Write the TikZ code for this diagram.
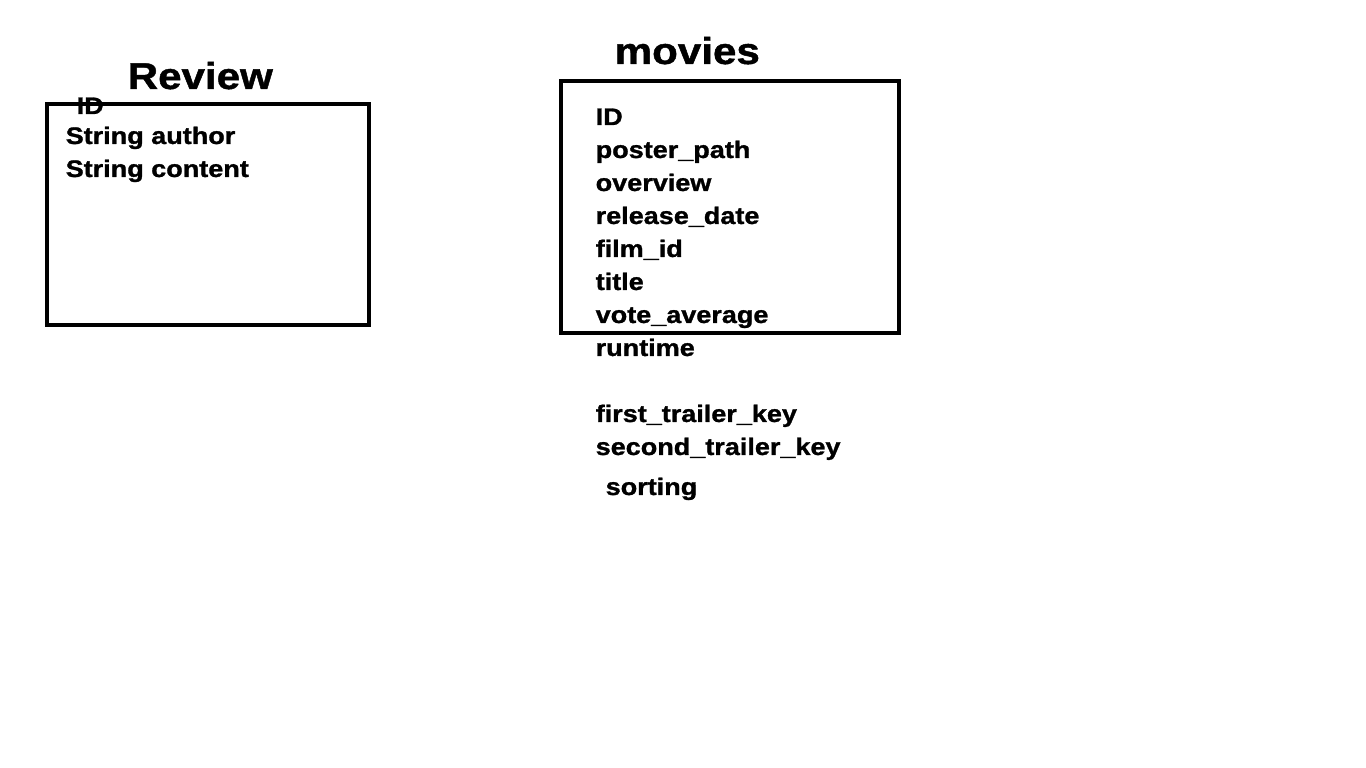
\documentclass[tikz,border=0pt]{standalone}
\usepackage{fontspec}
\setmainfont{Liberation Sans}[FakeStretch=1.13, BoldFeatures={FakeBold=1.2}]
\usepackage{tikz}

\begin{document}
\begin{tikzpicture}[x=0.01cm, y=-0.01cm,
    every node/.style={font=\bfseries\fontsize{6.8}{8}\selectfont, inner sep=0pt, anchor=base west},
    title/.style={font=\bfseries\fontsize{10.6}{12}\selectfont},
    tbl/.style={draw=black, line width=1.15pt}]
  \useasboundingbox[fill=white] (0,0) rectangle (1366,768);
  % Review table
  \draw[tbl] (47,104) rectangle (369,325);
  \node[title] (revtitle) at (127,89) {Review};
  \node (revid) at (76,114) {ID};
  \node (revauthor) at (65,144) {String author};
  \node (revcontent) at (65,177) {String content};
  % movies table
  \draw[tbl] (561,81) rectangle (899,333);
  \node[title] (movtitle) at (614,64) {movies};
  \foreach \name/\txt/\y in {id/ID/125, poster/poster\_path/158, overview/overview/191,
      release/release\_date/224, film/film\_id/257, title/title/290,
      vote/vote\_average/323, runtime/runtime/356,
      firstkey/first\_trailer\_key/422, secondkey/second\_trailer\_key/455}
    \node (mov\name) at (595,\y) {\txt};
  \node (movsorting) at (605,495) {sorting};
\end{tikzpicture}
\end{document}
